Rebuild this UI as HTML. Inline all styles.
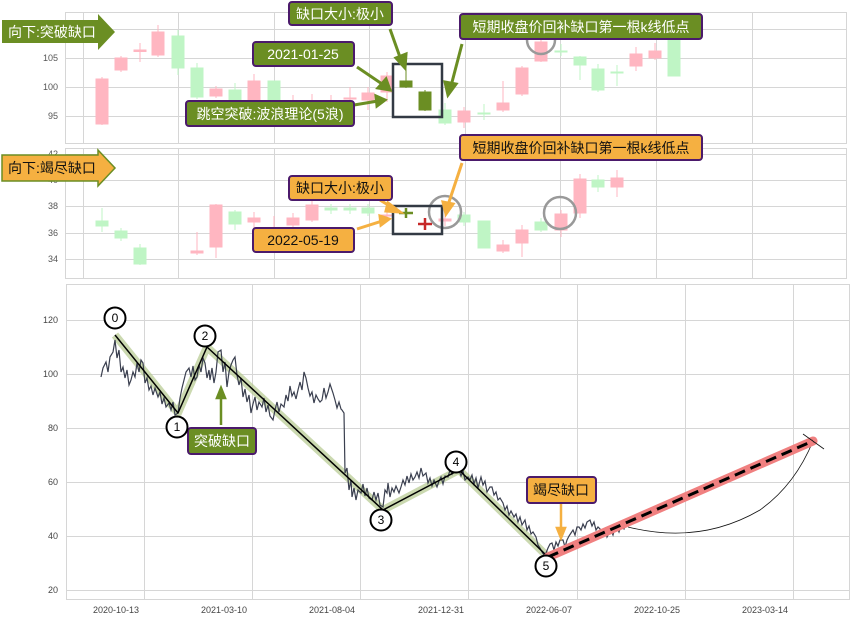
<!DOCTYPE html>
<html><head><meta charset="utf-8"><style>
html,body{margin:0;padding:0;background:#fff;}
svg text{font-family:"Liberation Sans","Noto Sans CJK SC",sans-serif;}
</style></head><body>
<svg width="853" height="623" viewBox="0 0 853 623" xmlns="http://www.w3.org/2000/svg">
<rect width="853" height="623" fill="#fff"/>
<!-- ===== TOP PANEL ===== -->
<g stroke="#d6d6d6" stroke-width="1" fill="none">
<rect x="65.5" y="12.5" width="781" height="131"/>
<line x1="65" y1="29.5" x2="847" y2="29.5"/><line x1="65" y1="58.5" x2="847" y2="58.5"/><line x1="65" y1="87.5" x2="847" y2="87.5"/><line x1="65" y1="116.5" x2="847" y2="116.5"/>
<line x1="83.5" y1="12" x2="83.5" y2="143"/><line x1="178.5" y1="12" x2="178.5" y2="143"/><line x1="274.5" y1="12" x2="274.5" y2="143"/><line x1="369.5" y1="12" x2="369.5" y2="143"/><line x1="465.5" y1="12" x2="465.5" y2="143"/><line x1="560.5" y1="12" x2="560.5" y2="143"/><line x1="656.5" y1="12" x2="656.5" y2="143"/><line x1="752.5" y1="12" x2="752.5" y2="143"/>
</g>
<g font-size="9" fill="#555" text-anchor="end"><text x="58" y="61">105</text><text x="58" y="90">100</text><text x="58" y="119">95</text></g>
<g>
<!-- pink candles -->
<g fill="#ffb6c1" stroke="#ffb6c1">
<line x1="102" y1="77" x2="102" y2="125"/><rect x="96" y="79" width="12" height="45"/>
<line x1="121" y1="56" x2="121" y2="72"/><rect x="115" y="58" width="12" height="12"/>
<line x1="140" y1="43" x2="140" y2="62"/><rect x="134" y="50" width="12" height="1.5"/>
<line x1="158" y1="25" x2="158" y2="57"/><rect x="152" y="32" width="12" height="23"/>
<line x1="216" y1="86" x2="216" y2="98"/><rect x="210" y="89" width="12" height="7"/>
<line x1="254" y1="74" x2="254" y2="100"/><rect x="248" y="81" width="12" height="19"/>
<line x1="293" y1="95" x2="293" y2="102"/><line x1="312" y1="94" x2="312" y2="102"/><line x1="331" y1="95" x2="331" y2="102"/>
<line x1="350" y1="87" x2="350" y2="101"/><rect x="344" y="98" width="12" height="1"/>
<line x1="368" y1="87" x2="368" y2="110"/><rect x="362" y="93" width="12" height="7"/>
<line x1="387" y1="72" x2="387" y2="102"/><rect x="381" y="76" width="12" height="16"/>
<line x1="464" y1="107" x2="464" y2="128"/><rect x="458" y="111" width="12" height="11"/>
<line x1="503" y1="81" x2="503" y2="112"/><rect x="497" y="103" width="12" height="7"/>
<line x1="522" y1="66" x2="522" y2="96"/><rect x="516" y="68" width="12" height="26"/>
<line x1="541" y1="38" x2="541" y2="62"/><rect x="535" y="42" width="12" height="19"/>
<line x1="636" y1="47" x2="636" y2="71"/><rect x="630" y="54" width="12" height="12"/>
<line x1="655" y1="43" x2="655" y2="60"/><rect x="649" y="51" width="12" height="7"/>
</g>
<g fill="#bff5c5" stroke="#bff5c5">
<line x1="178" y1="30" x2="178" y2="75"/><rect x="172" y="36" width="12" height="32"/>
<line x1="197" y1="63" x2="197" y2="99"/><rect x="191" y="68" width="12" height="29"/>
<line x1="235" y1="83" x2="235" y2="101"/><rect x="229" y="90" width="12" height="10"/>
<line x1="274" y1="81" x2="274" y2="101"/><rect x="268" y="81" width="12" height="19"/>
<line x1="445" y1="103" x2="445" y2="125"/><rect x="439" y="110" width="12" height="13"/>
<line x1="484" y1="104" x2="484" y2="120"/><rect x="478" y="113" width="12" height="1"/>
<line x1="561" y1="44" x2="561" y2="56"/><rect x="555" y="51" width="12" height="1"/>
<line x1="580" y1="56" x2="580" y2="80"/><rect x="574" y="57" width="12" height="8"/>
<line x1="598" y1="64" x2="598" y2="92"/><rect x="592" y="69" width="12" height="21"/>
<line x1="617" y1="65" x2="617" y2="86"/><rect x="611" y="72" width="12" height="1"/>
<rect x="668" y="40" width="12" height="36"/>
</g>
<g fill="#6b8e23" stroke="#6b8e23">
<line x1="406" y1="68" x2="406" y2="88"/><rect x="400" y="81" width="12" height="6"/>
<line x1="425" y1="90" x2="425" y2="111"/><rect x="419" y="92" width="12" height="18"/>
</g>
<circle cx="541" cy="40" r="14" fill="none" stroke="#999" stroke-width="2.5"/>
<rect x="393" y="64" width="49" height="53" fill="none" stroke="#333a44" stroke-width="2.5"/>
</g>
<!-- top annotations -->
<g stroke="#6b8e23" stroke-width="3" fill="#6b8e23">
<line x1="390" y1="29" x2="401" y2="60"/><polygon points="396,58 405,68 406,54"/>
<line x1="357" y1="67" x2="385" y2="86"/><polygon points="378,88 390,90 386,79"/>
<line x1="354" y1="105" x2="378" y2="101"/><polygon points="376,96 385,100 377,106"/>
<line x1="462" y1="44" x2="451" y2="86"/><polygon points="445,82 448,95 456,84"/>
</g>
<g font-size="14">
<rect x="289" y="2" width="103" height="23" rx="3" fill="#6b8e23" stroke="#4b1a6b" stroke-width="2"/><text x="340" y="19" fill="#fff" text-anchor="middle">缺口大小:极小</text>
<rect x="253" y="42" width="101" height="24" rx="3" fill="#6b8e23" stroke="#4b1a6b" stroke-width="2"/><text x="303" y="59" fill="#fff" text-anchor="middle">2021-01-25</text>
<rect x="186" y="101" width="168" height="25" rx="3" fill="#6b8e23" stroke="#4b1a6b" stroke-width="2"/><text x="270" y="119" fill="#fff" text-anchor="middle">跳空突破:波浪理论(5浪)</text>
<rect x="460" y="14" width="242" height="25" rx="3" fill="#6b8e23" stroke="#4b1a6b" stroke-width="2"/><text x="581" y="32" fill="#fff" text-anchor="middle">短期收盘价回补缺口第一根k线低点</text>
</g>
<polygon points="2,20 98,20 98,14 115,32 98,50 98,43 2,43" fill="#6b8e23"/>
<text x="8" y="37" font-size="14" fill="#fff">向下:突破缺口</text>

<!-- ===== MIDDLE PANEL ===== -->
<g stroke="#d6d6d6" stroke-width="1" fill="none">
<rect x="65.5" y="148.5" width="781" height="130"/>
<line x1="65" y1="154.5" x2="847" y2="154.5"/><line x1="65" y1="180.5" x2="847" y2="180.5"/><line x1="65" y1="206.5" x2="847" y2="206.5"/><line x1="65" y1="233.5" x2="847" y2="233.5"/><line x1="65" y1="259.5" x2="847" y2="259.5"/>
<line x1="83.5" y1="148" x2="83.5" y2="278"/><line x1="178.5" y1="148" x2="178.5" y2="278"/><line x1="274.5" y1="148" x2="274.5" y2="278"/><line x1="369.5" y1="148" x2="369.5" y2="278"/><line x1="465.5" y1="148" x2="465.5" y2="278"/><line x1="560.5" y1="148" x2="560.5" y2="278"/><line x1="656.5" y1="148" x2="656.5" y2="278"/><line x1="752.5" y1="148" x2="752.5" y2="278"/>
</g>
<g font-size="9" fill="#555" text-anchor="end"><text x="58" y="157">42</text><text x="58" y="183">40</text><text x="58" y="209">38</text><text x="58" y="236">36</text><text x="58" y="262">34</text></g>
<g fill="#bff5c5" stroke="#bff5c5">
<line x1="102" y1="208" x2="102" y2="232"/><rect x="96" y="221" width="12" height="5"/>
<line x1="121" y1="228" x2="121" y2="241"/><rect x="115" y="231" width="12" height="7"/>
<line x1="140" y1="244" x2="140" y2="265"/><rect x="134" y="248" width="12" height="16"/>
<line x1="235" y1="210" x2="235" y2="230"/><rect x="229" y="212" width="12" height="12"/>
<line x1="331" y1="204" x2="331" y2="214"/><rect x="325" y="208" width="12" height="2"/>
<line x1="350" y1="204" x2="350" y2="214"/><rect x="344" y="208" width="12" height="2"/>
<line x1="368" y1="204" x2="368" y2="216"/><rect x="362" y="208" width="12" height="5"/>
<line x1="464" y1="212" x2="464" y2="226"/><rect x="458" y="215" width="12" height="7"/>
<rect x="478" y="221" width="12" height="27"/>
<line x1="541" y1="218" x2="541" y2="232"/><rect x="535" y="222" width="12" height="8"/>
<line x1="598" y1="175" x2="598" y2="192"/><rect x="592" y="180" width="12" height="7"/>
</g>
<g fill="#ffb6c1" stroke="#ffb6c1">
<line x1="197" y1="232" x2="197" y2="255"/><rect x="191" y="251" width="12" height="2"/>
<line x1="216" y1="204" x2="216" y2="258"/><rect x="210" y="205" width="12" height="42"/>
<line x1="254" y1="212" x2="254" y2="233"/><rect x="248" y="218" width="12" height="4"/>
<line x1="274" y1="216" x2="274" y2="235"/>
<line x1="293" y1="213" x2="293" y2="229"/><rect x="287" y="218" width="12" height="7"/>
<line x1="312" y1="200" x2="312" y2="222"/><rect x="306" y="205" width="12" height="15"/>
<line x1="387" y1="209" x2="387" y2="221"/><rect x="381" y="215" width="12" height="1"/>
<line x1="445" y1="214" x2="445" y2="226"/><rect x="439" y="219" width="12" height="2"/>
<line x1="503" y1="240" x2="503" y2="253"/><rect x="497" y="245" width="12" height="6"/>
<line x1="522" y1="225" x2="522" y2="257"/><rect x="516" y="230" width="12" height="13"/>
<line x1="561" y1="210" x2="561" y2="237"/><rect x="555" y="214" width="12" height="16"/>
<line x1="580" y1="174" x2="580" y2="218"/><rect x="574" y="179" width="12" height="34"/>
<line x1="617" y1="170" x2="617" y2="197"/><rect x="611" y="178" width="12" height="9"/>
</g>
<g stroke="#6b8e23" stroke-width="2.5"><line x1="406" y1="208" x2="406" y2="218"/><line x1="399" y1="213" x2="413" y2="213"/></g>
<g stroke="#c62828" stroke-width="2.5"><line x1="425" y1="218" x2="425" y2="230"/><line x1="418" y1="224" x2="432" y2="224"/></g>
<circle cx="445" cy="212" r="16" fill="none" stroke="#999" stroke-width="2.5"/>
<circle cx="560" cy="213" r="16" fill="none" stroke="#999" stroke-width="2.5"/>
<rect x="393" y="206" width="49" height="28" fill="none" stroke="#333a44" stroke-width="2.5"/>
<g stroke="#f5b041" stroke-width="3" fill="#f5b041">
<line x1="380" y1="200" x2="393" y2="208"/><polygon points="388,203 400,212 386,211"/>
<line x1="357" y1="229" x2="382" y2="221"/><polygon points="380,216 389,219 381,225"/>
<line x1="462" y1="163" x2="448" y2="205"/><polygon points="443,202 446,214 453,204"/>
</g>
<g font-size="14">
<rect x="460" y="135" width="242" height="25" rx="3" fill="#f5b041" stroke="#4b1a6b" stroke-width="2"/><text x="581" y="153" fill="#111" text-anchor="middle">短期收盘价回补缺口第一根k线低点</text>
<rect x="289" y="176" width="103" height="24" rx="3" fill="#f5b041" stroke="#4b1a6b" stroke-width="2"/><text x="340" y="193" fill="#111" text-anchor="middle">缺口大小:极小</text>
<rect x="253" y="228" width="101" height="24" rx="3" fill="#f5b041" stroke="#4b1a6b" stroke-width="2"/><text x="303" y="245" fill="#111" text-anchor="middle">2022-05-19</text>
</g>
<polygon points="2,155 98,155 98,150 115,168 98,186 98,181 2,181" fill="#f5b041" stroke="#6b8e23" stroke-width="1.5"/>
<text x="8" y="173" font-size="14" fill="#111">向下:竭尽缺口</text>

<!-- ===== BOTTOM PANEL ===== -->
<g stroke="#d6d6d6" stroke-width="1" fill="none">
<rect x="66.5" y="284.5" width="783" height="315"/>
<line x1="66" y1="320.5" x2="850" y2="320.5"/><line x1="66" y1="374.5" x2="850" y2="374.5"/><line x1="66" y1="428.5" x2="850" y2="428.5"/><line x1="66" y1="482.5" x2="850" y2="482.5"/><line x1="66" y1="536.5" x2="850" y2="536.5"/><line x1="66" y1="590.5" x2="850" y2="590.5"/>
<line x1="144.5" y1="284" x2="144.5" y2="600"/><line x1="252.5" y1="284" x2="252.5" y2="600"/><line x1="360.5" y1="284" x2="360.5" y2="600"/><line x1="468.5" y1="284" x2="468.5" y2="600"/><line x1="577.5" y1="284" x2="577.5" y2="600"/><line x1="685.5" y1="284" x2="685.5" y2="600"/><line x1="793.5" y1="284" x2="793.5" y2="600"/>
</g>
<g font-size="9" fill="#444" text-anchor="end"><text x="58" y="323">120</text><text x="58" y="377">100</text><text x="58" y="431">80</text><text x="58" y="485">60</text><text x="58" y="539">40</text><text x="58" y="593">20</text></g>
<g font-size="9" fill="#444" text-anchor="middle"><text x="116" y="613">2020-10-13</text><text x="224" y="613">2021-03-10</text><text x="332" y="613">2021-08-04</text><text x="441" y="613">2021-12-31</text><text x="549" y="613">2022-06-07</text><text x="657" y="613">2022-10-25</text><text x="765" y="613">2023-03-14</text></g>
<!-- wave highlight -->
<polyline points="115,335 178,413 207,347 383,510 459,470 548,557" fill="none" stroke="#b5c98e" stroke-opacity="0.7" stroke-width="8" stroke-linejoin="round"/>
<!-- price -->
<polyline fill="none" stroke="#3a3f4f" stroke-width="1.2" points="101,377 103,368 106,362 108,372 110,357 113,352 115,340 117,358 119,350 121,372 123,367 125,378 127,370 129,385 131,380 133,372 135,377 137,363 139,372 141,360 143,363 145,383 147,378 149,390 151,386 153,395 155,388 158,397 160,392 162,404 164,398 166,407 169,403 171,410 173,402 175,415 178,413 180,398 182,388 184,380 186,372 189,368 191,377 193,366 195,380 197,377 199,365 201,372 203,358 205,363 207,378 209,370 210,380 212,368 214,383 216,372 218,352 221,350 223,372 225,362 227,387 229,372 231,365 233,360 235,357 237,375 239,385 241,378 243,397 245,389 247,402 249,395 251,413 253,404 255,397 257,410 259,402 262,407 264,398 266,412 268,405 270,416 273,420 275,410 277,402 279,412 281,404 284,407 286,395 288,401 290,386 292,396 294,392 296,399 298,390 300,382 302,390 304,372 306,378 308,388 310,396 312,392 314,403 316,395 318,399 320,402 322,400 324,388 326,398 328,392 330,384 333,393 335,400 337,408 339,402 341,409 342,410 344,413 345,473 347,468 349,490 351,480 352,497 354,488 356,500 358,490 361,493 363,484 365,496 367,488 369,498 372,500 374,492 376,500 378,493 380,505 383,507 385,490 387,493 388,483 390,497 392,488 394,492 396,486 399,493 401,487 403,480 405,485 407,476 409,483 411,474 413,480 415,477 417,472 419,478 421,468 423,476 426,473 428,483 430,478 432,486 434,480 437,487 439,481 441,477 443,484 445,476 448,477 450,470 452,474 454,468 456,472 459,470 461,476 463,471 465,480 468,477 470,480 472,475 474,484 476,478 478,488 481,477 483,485 485,481 487,492 490,487 492,487 494,495 496,492 498,500 500,498 503,503 505,510 507,506 509,515 511,511 514,517 516,514 518,522 520,517 522,525 525,520 527,530 529,526 531,534 533,532 536,537 538,545 540,548 542,552 544,555 546,553 548,548 550,544 552,543 554,550 556,542 558,546 560,540 563,540 565,547 567,540 569,536 571,533 573,530 575,535 577,527 579,527 581,530 583,524 585,528 587,522 590,520 592,526 594,522 596,530 598,527 601,530 603,534 605,529 607,537 609,533 611,530 613,535 615,528 617,527 619,532 621,526 624,529 626,523"/>
<polyline points="115,335 178,413 207,347 383,510 459,470 548,557" fill="none" stroke="#000" stroke-width="1.5" stroke-linejoin="round"/>
<path d="M628,527 Q700,545 760,510 Q795,485 813,441" fill="none" stroke="#111" stroke-width="0.8"/>
<line x1="548" y1="557" x2="813" y2="441" stroke="#f08080" stroke-width="9" stroke-linecap="round"/>
<line x1="548" y1="557" x2="813" y2="441" stroke="#000" stroke-width="3" stroke-dasharray="11,6"/>
<line x1="803" y1="434" x2="824" y2="449" stroke="#111" stroke-width="0.8"/>
<!-- arrows -->
<g stroke="#6b8e23" stroke-width="2.5" fill="#6b8e23"><line x1="221" y1="425" x2="221" y2="396"/><polygon points="217,398 221,388 225,398"/></g>
<g stroke="#f5b041" stroke-width="2.5" fill="#f5b041"><line x1="561" y1="504" x2="561" y2="530"/><polygon points="557,528 561,538 565,528"/></g>
<g font-size="14">
<rect x="188" y="428" width="68" height="26" rx="3" fill="#6b8e23" stroke="#4b1a6b" stroke-width="2"/><text x="222" y="446" fill="#fff" text-anchor="middle">突破缺口</text>
<rect x="527" y="477" width="69" height="26" rx="3" fill="#f5b041" stroke="#4b1a6b" stroke-width="2"/><text x="561" y="495" fill="#111" text-anchor="middle">竭尽缺口</text>
</g>
<g fill="#fff" stroke="#000" stroke-width="2" font-size="12">
<circle cx="115" cy="318" r="10.5"/><circle cx="177" cy="427" r="10.5"/><circle cx="205" cy="336" r="10.5"/><circle cx="381" cy="520" r="10.5"/><circle cx="456" cy="462" r="10.5"/><circle cx="546" cy="566" r="10.5"/>
</g>
<g font-size="12" fill="#000" text-anchor="middle">
<text x="115" y="322">0</text><text x="177" y="431">1</text><text x="205" y="340">2</text><text x="381" y="524">3</text><text x="456" y="466">4</text><text x="546" y="570">5</text>
</g>
</svg>
</body></html>
